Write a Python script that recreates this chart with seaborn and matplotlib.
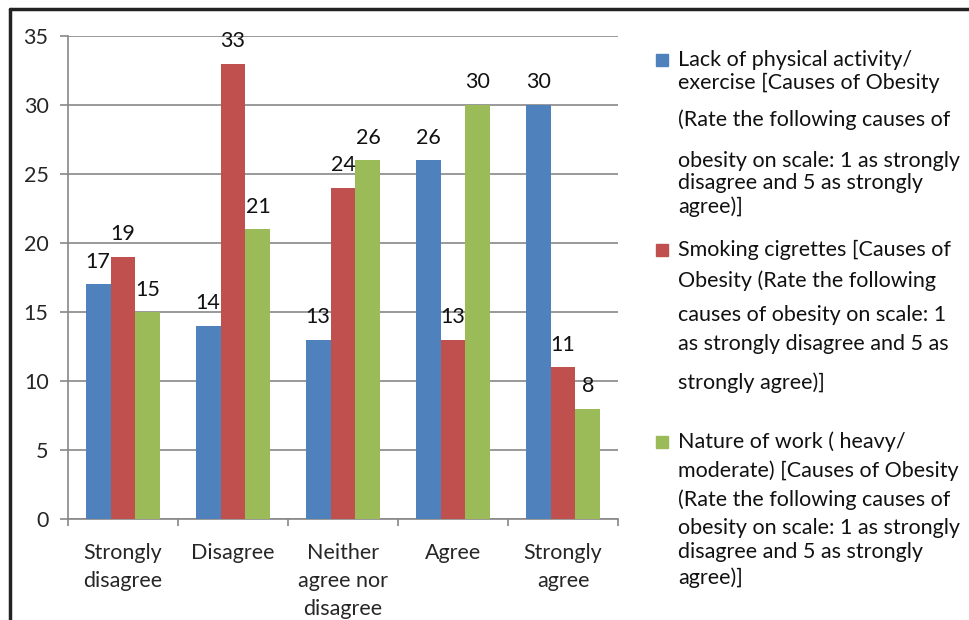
import pandas as pd
import matplotlib.pyplot as plt
import seaborn as sns
from matplotlib.patches import Rectangle
from matplotlib.lines import Line2D

# data
categories = ['Strongly\ndisagree', 'Disagree', 'Neither\nagree nor\ndisagree', 'Agree', 'Strongly\nagree']
series_names = ['Lack of physical activity', 'Smoking cigrettes', 'Nature of work']
lack_activity = [17, 14, 13, 26, 30]
smoking = [19, 33, 24, 13, 11]
nature_work = [15, 21, 26, 30, 8]
colors = ['#4F81BD', '#C0504D', '#9BBB59']

legend_lines = [
    ['Lack of physical activity/', 'exercise [Causes of Obesity', '(Rate the following causes of',
     'obesity on scale: 1 as strongly', 'disagree and 5 as strongly', 'agree)]'],
    ['Smoking cigrettes [Causes of', 'Obesity (Rate the following', 'causes of obesity on scale: 1',
     'as strongly disagree and 5 as', 'strongly agree)]'],
    ['Nature of work ( heavy/', 'moderate) [Causes of Obesity', '(Rate the following causes of',
     'obesity on scale: 1 as strongly', 'disagree and 5 as strongly', 'agree)]'],
]
# pixel rows of each legend line (from top of image)
legend_rows = [
    [60, 83, 120, 161, 183, 207],
    [250, 281, 315, 344, 383],
    [442, 471, 500, 528, 552, 578],
]

df = pd.DataFrame({
    'category': categories * 3,
    'series': [s for s in series_names for _ in categories],
    'value': lack_activity + smoking + nature_work,
})

sns.set_style('white')
plt.rcParams['font.family'] = ['Lato', 'DejaVu Sans']
FS = 15.5

W, H = 969, 620
fig = plt.figure(figsize=(W / 100, H / 100), dpi=100)
ax = fig.add_axes([68 / W, 1 - 519 / H, 550 / W, 483 / H])

sns.barplot(data=df, x='category', y='value', hue='series', palette=colors,
            width=0.68, saturation=1, ax=ax, legend=False, zorder=3, linewidth=0)

for cont in ax.containers:
    ax.bar_label(cont, padding=9, fontsize=FS, color='#111111')

ax.set_ylim(0, 35)
ax.set_yticks(range(0, 36, 5))
ax.set_xlim(-0.5, 4.5)
ax.set_xlabel('')
ax.set_ylabel('')
ax.yaxis.grid(True, color='#888888', linewidth=1.2, zorder=0)
ax.set_axisbelow(True)
for side in ['top', 'right']:
    ax.spines[side].set_visible(False)
for side in ['left', 'bottom']:
    ax.spines[side].set_color('#888888')
    ax.spines[side].set_linewidth(1.2)

ax.tick_params(axis='y', which='major', direction='out', length=6, width=1.2,
               color='#888888', labelsize=FS, pad=8, left=True)
ax.set_xticks(range(5))
ax.set_xticklabels(categories, fontsize=FS, linespacing=1.5)
ax.set_xticks([i - 0.5 for i in range(6)], minor=True)
ax.tick_params(axis='x', which='major', length=0, pad=17)
ax.tick_params(axis='x', which='minor', direction='out', length=5, width=1.2,
               color='#888888', bottom=True)

# legend drawn line by line to keep the original wrapping
for color, lines, rows in zip(colors, legend_lines, legend_rows):
    fig.patches.append(Rectangle((656 / W, 1 - (rows[0] + 6) / H), 12 / W, 12 / H,
                                 transform=fig.transFigure, color=color))
    for text, row in zip(lines, rows):
        fig.text(678 / W, 1 - row / H, text, fontsize=FS, va='center', ha='left', color='#111111')

# outer frame (left and top edges visible)
fig.add_artist(Line2D([10 / W, 10 / W], [0, 1 - 9 / H], transform=fig.transFigure,
                      color='#222222', linewidth=2.5))
fig.add_artist(Line2D([10 / W, 1], [1 - 9 / H, 1 - 9 / H], transform=fig.transFigure,
                      color='#222222', linewidth=2.5))

fig.savefig('out.png', dpi=100)
